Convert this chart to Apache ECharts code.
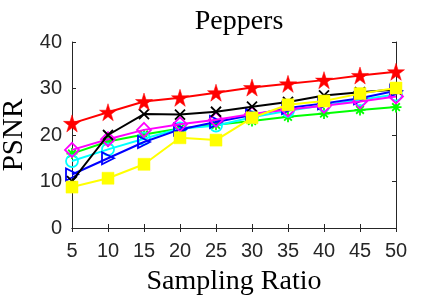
<!DOCTYPE html>
<html><head><meta charset="utf-8">
<script src="https://cdn.jsdelivr.net/npm/echarts@6/dist/echarts.min.js"></script>
<style>html,body{margin:0;padding:0;background:#fff}#c{width:438px;height:297px}</style>
</head><body><div id="c"></div>
<script>
const ratios = [5, 10, 15, 20, 25, 30, 35, 40, 45, 50];
const redStar   = [22.5, 24.9, 27.2, 28.0, 29.1, 30.2, 31.0, 31.8, 32.8, 33.6];
const blackX    = [10.1, 20.0, 24.5, 24.4, 25.0, 26.1, 27.1, 28.5, 29.2, 29.8];
const magenta   = [16.8, 19.1, 21.1, 22.3, 23.3, 24.5, 25.5, 26.3, 27.2, 28.3];
const cyanO     = [14.4, 16.9, 19.2, 21.4, 22.0, 23.8, 25.2, 26.4, 27.6, 28.7];
const blueTri   = [11.5, 15.0, 18.5, 21.2, 22.8, 24.3, 25.8, 26.8, 27.9, 29.5];
const greenAst  = [16.0, 18.6, 20.1, 21.4, 22.2, 23.0, 23.9, 24.6, 25.4, 26.0];
const yellowSq  = [8.8, 10.7, 13.7, 19.4, 18.9, 23.7, 26.5, 27.3, 28.9, 30.1];
const yTicks = [0, 10, 20, 30, 40];

const pairs = arr => ratios.map((r, i) => [r, arr[i]]);
const STAR = 'path://M50,0L61.2,34.5L97.6,34.5L68.2,55.9L79.4,90.5L50,69.1L20.6,90.5L31.8,55.9L2.4,34.5L38.8,34.5Z';
const XSYM = 'path://M0,0L10,10M10,0L0,10';
const AST = 'path://M5,0L5,10M0,5L10,5M1.5,1.5L8.5,8.5M8.5,1.5L1.5,8.5';

function mk(name, data, color, symbol, size, filled, extra) {
  return Object.assign({
    name, type: 'line', data: pairs(data), symbol, symbolSize: size,
    lineStyle: { color, width: 2 },
    itemStyle: { color: filled ? color : 'rgba(0,0,0,0)', borderColor: color, borderWidth: filled ? 0.5 : 1.8 },
    showAllSymbol: true, animation: false, silent: true
  }, extra || {});
}

const chart = echarts.init(document.getElementById('c'));
const axisCol = '#262626';
chart.setOption({
  backgroundColor: '#fff',
  title: {
    text: 'Peppers', left: 234, top: 3, textAlign: 'center',
    textStyle: { fontFamily: 'Liberation Serif', fontWeight: 'normal', fontSize: 28, color: '#000' }
  },
  grid: { left: 72, right: 42, top: 42, bottom: 69, containLabel: false, outerBoundsMode: 'none' },
  xAxis: [{
    type: 'value', min: 5, max: 50, interval: 5,
    name: 'Sampling Ratio', nameLocation: 'middle', nameGap: 40,
    nameTextStyle: { fontFamily: 'Liberation Serif', fontSize: 28, color: '#000' },
    axisLine: { show: true, lineStyle: { color: axisCol, width: 1 } },
    axisTick: { show: true, inside: true, length: 4, lineStyle: { color: axisCol } },
    axisLabel: { fontFamily: 'Liberation Sans', fontSize: 20, color: axisCol, margin: 13 },
    splitLine: { show: false }
  }, {
    type: 'value', min: 5, max: 50, interval: 5, position: 'top',
    axisLine: { show: true, lineStyle: { color: axisCol, width: 1 } },
    axisTick: { show: true, inside: true, length: 4, lineStyle: { color: axisCol } },
    axisLabel: { show: false }, splitLine: { show: false }
  }],
  yAxis: [{
    type: 'value', min: yTicks[0], max: yTicks[yTicks.length - 1], interval: 10,
    name: 'PSNR', nameLocation: 'middle', nameGap: 43,
    nameTextStyle: { fontFamily: 'Liberation Serif', fontSize: 29, color: '#000' },
    axisLine: { show: true, lineStyle: { color: axisCol, width: 1 } },
    axisTick: { show: true, inside: true, length: 4, lineStyle: { color: axisCol } },
    axisLabel: { fontFamily: 'Liberation Sans', fontSize: 20, color: axisCol, margin: 10 },
    splitLine: { show: false }
  }, {
    type: 'value', min: yTicks[0], max: yTicks[yTicks.length - 1], interval: 10, position: 'right',
    axisLine: { show: true, lineStyle: { color: axisCol, width: 1 } },
    axisTick: { show: true, inside: true, length: 4, lineStyle: { color: axisCol } },
    axisLabel: { show: false }, splitLine: { show: false }
  }],
  series: [
    mk('green', greenAst, '#00ff00', AST, 11, false, { z: 2 }),
    mk('cyan', cyanO, '#00ffff', 'circle', 12, false, { z: 3 }),
    mk('blue', blueTri, '#0000ff', 'triangle', 12, false, { z: 4, symbolRotate: -90 }),
    mk('magenta', magenta, '#ff00ff', 'diamond', 14, false, { z: 5 }),
    mk('black', blackX, '#000000', XSYM, 10, true, { z: 6, itemStyle: { color: '#000', borderColor: '#000', borderWidth: 1.8 } }),
    mk('yellow', yellowSq, '#ffff00', 'rect', 12, true, { z: 7 }),
    mk('red', redStar, '#ff0000', STAR, 17, true, { z: 8 })
  ]
});
</script></body></html>
